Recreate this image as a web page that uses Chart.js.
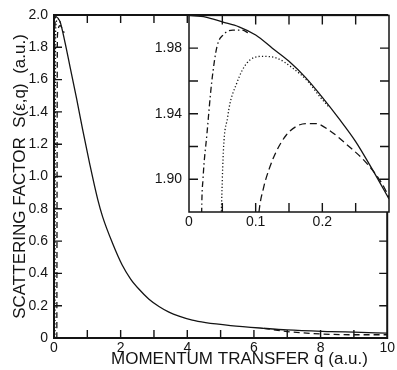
<!DOCTYPE html>
<html>
<head>
<meta charset="utf-8">
<script src="https://cdn.jsdelivr.net/npm/chart.js@4/dist/chart.umd.min.js"></script>
<style>
  body { margin: 0; background: #fff; }
  #wrap { position: relative; width: 397px; height: 370px; overflow: hidden; }
  #main { position: absolute; left: 0; top: 0; }
  #inset { position: absolute; left: 130px; top: 0; }
</style>
</head>
<body>
<div id="wrap">
  <canvas id="main" width="397" height="370"></canvas>
  <canvas id="inset" width="267" height="235"></canvas>
</div>
<script>
// main panel - solid curve S(q)
const mainQ = [0, 0.18, 0.33, 0.48, 0.68, 0.86, 1.07, 1.31, 1.46, 1.76, 2.05, 2.3, 2.56, 2.85, 3.15, 3.45, 3.75, 4.15, 4.55, 5.3, 6.3, 7.0, 8.3, 9.0, 10];
const mainS = [2.0, 1.96, 1.83, 1.68, 1.48, 1.29, 1.08, 0.86, 0.75, 0.585, 0.45, 0.365, 0.30, 0.24, 0.195, 0.16, 0.135, 0.11, 0.095, 0.077, 0.06, 0.05, 0.04, 0.036, 0.03];
// dashed curve at large q (main panel)
const tailQ = [6.3, 7, 8, 9, 10];
const tailS = [0.06, 0.04, 0.025, 0.02, 0.02];

// inset (small q)
const solidQ = [0, 0.025, 0.05, 0.075, 0.1, 0.125, 0.15, 0.175, 0.2, 0.225, 0.25, 0.275, 0.3];
const solidS = [2.000, 1.999, 1.996, 1.993, 1.988, 1.980, 1.972, 1.962, 1.950, 1.937, 1.923, 1.906, 1.888];
const dashDotQ = [0.006, 0.012, 0.016, 0.019, 0.021, 0.027, 0.034, 0.042, 0.051, 0.066, 0.08, 0.09];
const dashDotS = [0, 1.2, 1.75, 1.88, 1.90, 1.928, 1.959, 1.981, 1.988, 1.991, 1.991, 1.989];
const dottedQ = [0.03, 0.04, 0.046, 0.05, 0.058, 0.072, 0.087, 0.109, 0.131, 0.155, 0.18, 0.195, 0.21];
const dottedS = [0, 1.3, 1.8, 1.90, 1.938, 1.959, 1.971, 1.975, 1.974, 1.968, 1.959, 1.951, 1.944];
const dashedQ = [0.085, 0.1, 0.105, 0.112, 0.12, 0.131, 0.146, 0.16, 0.175, 0.19, 0.21, 0.24, 0.266, 0.29, 0.3];
const dashedS = [0, 1.82, 1.88, 1.895, 1.906, 1.917, 1.927, 1.932, 1.934, 1.934, 1.930, 1.92, 1.91, 1.897, 1.889];

// tick labels and tick marks
const mainXLabels = [0, 2, 4, 6, 8, 10];
const mainYLabels = [0, 0.2, 0.4, 0.6, 0.8, 1.0, 1.2, 1.4, 1.6, 1.8, 2.0];
const mainXTicks = [1, 2, 3, 4, 5, 6, 7, 8, 9];
const mainYTicks = [0.2, 0.4, 0.6, 0.8, 1.0, 1.2, 1.4, 1.6, 1.8];
const insetXLabels = [0, 0.1, 0.2];
const insetYLabels = [1.90, 1.94, 1.98];
const insetXTicks = [0.05, 0.1, 0.15, 0.2, 0.25];
const insetYTicks = [1.90, 1.92, 1.94, 1.96, 1.98];

const ink = '#141414';
const fontFam = '"Liberation Sans", Arial, sans-serif';

const pts = (qs, ss) => qs.map((q, i) => ({ x: q, y: ss[i] }));

function line(data, dash, w) {
  return {
    data, borderColor: ink, borderWidth: w || 1.3, borderDash: dash || [],
    pointRadius: 0, fill: false, cubicInterpolationMode: 'monotone'
  };
}

// inward ticks on all four sides + frame
function frameTicks(id, xTicks, yTicks, len, fw, whiteBg) {
  return {
    id,
    beforeDraw(chart) {
      if (!whiteBg) return;
      const a = chart.chartArea, ctx = chart.ctx;
      ctx.save();
      ctx.fillStyle = '#fff';
      ctx.fillRect(a.left, a.top, a.right - a.left, a.bottom - a.top);
      ctx.restore();
    },
    afterDraw(chart) {
      const { ctx, chartArea: a, scales: { x, y } } = chart;
      ctx.save();
      ctx.strokeStyle = ink;
      ctx.lineWidth = 1.4;
      ctx.beginPath();
      xTicks.forEach(v => {
        const px = x.getPixelForValue(v);
        ctx.moveTo(px, a.bottom); ctx.lineTo(px, a.bottom - len);
        ctx.moveTo(px, a.top); ctx.lineTo(px, a.top + len);
      });
      yTicks.forEach(v => {
        const py = y.getPixelForValue(v);
        ctx.moveTo(a.left, py); ctx.lineTo(a.left + len, py);
        ctx.moveTo(a.right, py); ctx.lineTo(a.right - len, py);
      });
      ctx.stroke();
      ctx.lineWidth = fw;
      ctx.strokeRect(a.left, a.top, a.right - a.left, a.bottom - a.top);
      ctx.restore();
    }
  };
}

const tickFont = { family: fontFam, size: 14 };

new Chart(document.getElementById('main'), {
  type: 'line',
  data: {
    datasets: [
      line(pts(mainQ, mainS)),
      line(pts(tailQ, tailS), [6, 4]),
      line(pts(dashDotQ, dashDotS), [6, 3, 1.5, 3]),
      line(pts(dottedQ, dottedS), [1.2, 2.2]),
      line(pts(dashedQ, dashedS), [6, 4])
    ]
  },
  options: {
    responsive: false,
    animation: false,
    layout: { padding: { top: 15, left: 0, right: 0, bottom: 0 } },
    plugins: { legend: { display: false }, tooltip: { enabled: false } },
    scales: {
      x: {
        type: 'linear', min: 0, max: 10,
        grid: { display: false, drawTicks: false },
        border: { display: false },
        afterBuildTicks: s => { s.ticks = mainXLabels.map(v => ({ value: v })); },
        ticks: { color: ink, font: tickFont, padding: 2, maxRotation: 0, autoSkip: false, callback: v => String(v) },
        title: { display: true, text: '        MOMENTUM TRANSFER q (a.u.)', color: ink,
                 font: { family: fontFam, size: 17 }, padding: { top: 0, bottom: 0 } },
        afterFit: s => { s.height = 32; }
      },
      y: {
        type: 'linear', min: 0, max: 2,
        grid: { display: false, drawTicks: false },
        border: { display: false },
        afterBuildTicks: s => { s.ticks = mainYLabels.map(v => ({ value: v })); },
        ticks: { color: ink, font: tickFont, padding: 6, autoSkip: false,
                 callback: v => v === 0 ? '0' : v.toFixed(1) },
        title: { display: true, text: 'SCATTERING FACTOR  S(\u03b5,q)  (a.u.)', color: ink,
                 font: { family: fontFam, size: 17 }, padding: { top: 10, bottom: 0 } },
        afterFit: s => { s.width = 54; }
      }
    }
  },
  plugins: [frameTicks('mainFrame', mainXTicks, mainYTicks, 8, 2, false)]
});

new Chart(document.getElementById('inset'), {
  type: 'line',
  data: {
    datasets: [
      line(pts(solidQ, solidS)),
      line(pts(dashDotQ, dashDotS), [6, 3, 1.5, 3]),
      line(pts(dottedQ, dottedS), [1.2, 2.2]),
      line(pts(dashedQ, dashedS), [7, 4])
    ]
  },
  options: {
    responsive: false,
    animation: false,
    layout: { padding: { top: 15, left: 0, right: 8, bottom: 0 } },
    plugins: { legend: { display: false }, tooltip: { enabled: false } },
    scales: {
      x: {
        type: 'linear', min: 0, max: 0.3,
        grid: { display: false, drawTicks: false },
        border: { display: false },
        afterBuildTicks: s => { s.ticks = insetXLabels.map(v => ({ value: v })); },
        ticks: { color: ink, font: tickFont, padding: 2, maxRotation: 0, autoSkip: false,
                 callback: v => v === 0 ? '0' : v.toFixed(1) },
        afterFit: s => { s.height = 23; }
      },
      y: {
        type: 'linear', min: 1.88, max: 2.0,
        grid: { display: false, drawTicks: false },
        border: { display: false },
        afterBuildTicks: s => { s.ticks = insetYLabels.map(v => ({ value: v })); },
        ticks: { color: ink, font: tickFont, padding: 7, autoSkip: false,
                 callback: v => v.toFixed(2) },
        afterFit: s => { s.width = 59; }
      }
    }
  },
  plugins: [frameTicks('insetFrame', insetXTicks, insetYTicks, 9, 1.5, true)]
});
</script>
</body>
</html>
